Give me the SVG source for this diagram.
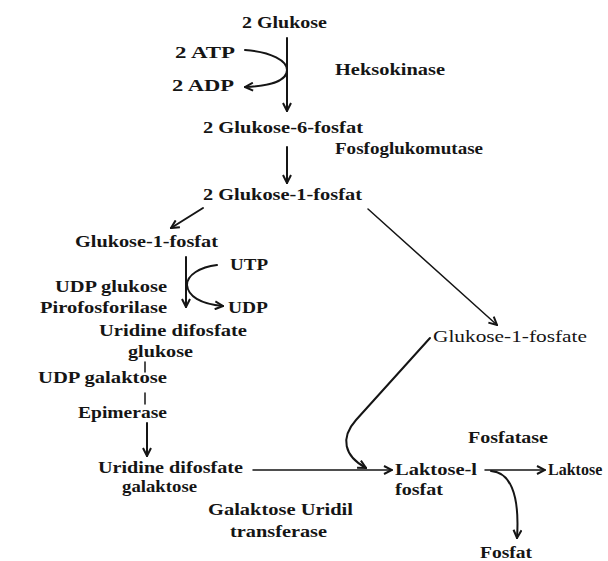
<svg xmlns="http://www.w3.org/2000/svg" width="608" height="561" viewBox="0 0 608 561">
<defs>
<style>
text{font-family:"Liberation Serif","Times New Roman",serif;font-size:17px;font-weight:bold;fill:#151515;}
text.r{font-weight:normal;}
.c{fill:none;stroke:#151515;stroke-width:2;stroke-linecap:round;}
.c1{fill:none;stroke:#151515;stroke-width:1.5;stroke-linecap:round;}
</style>
<marker id="ah" viewBox="0 0 10 10" refX="9" refY="5" markerWidth="10" markerHeight="10" markerUnits="userSpaceOnUse" orient="auto">
<path d="M1,1 L9,5 L1,9" fill="none" stroke="#151515" stroke-width="2" stroke-linejoin="miter"/>
</marker>
</defs>
<rect width="608" height="561" fill="#ffffff"/>

<g id="connectors">
<path class="c" d="M287,38 L287,111" marker-end="url(#ah)"/>
<path class="c" d="M245,50 C272,52 287,61 287,70 C287,80 272,86 245,87" marker-end="url(#ah)"/>
<path class="c" d="M287,147 L287,183" marker-end="url(#ah)"/>
<path class="c" d="M203,208 L171,228" marker-end="url(#ah)"/>
<path class="c1" d="M368,209 L497,325" marker-end="url(#ah)"/>
<path class="c" d="M186,257 L186,307" marker-end="url(#ah)"/>
<path class="c" d="M217,265 C200,267 187,275 187,285 C188,296 200,304 223,306" marker-end="url(#ah)"/>
<path class="c1" d="M145,362 L145,372"/>
<path class="c1" d="M145,393 L145,404"/>
<path class="c" d="M147,423 L147,456" marker-end="url(#ah)"/>
<path class="c1" d="M253,470 L392,470" marker-end="url(#ah)"/>
<path class="c" d="M430,338 L356,420 C340,438 344,456 366,468" marker-end="url(#ah)"/>
<path class="c1" d="M485,470 L545,470" marker-end="url(#ah)"/>
<path class="c" d="M491,471 C509,472 520,492 517,538" marker-end="url(#ah)"/>
</g>

<g id="glukose"><text x="242" y="28" textLength="85" lengthAdjust="spacingAndGlyphs">2 Glukose</text></g>
<g id="atp"><text x="175" y="58" textLength="60" lengthAdjust="spacingAndGlyphs">2 ATP</text></g>
<g id="adp"><text x="172" y="91" textLength="62" lengthAdjust="spacingAndGlyphs">2 ADP</text></g>
<g id="heksokinase"><text x="335" y="75" textLength="110" lengthAdjust="spacingAndGlyphs">Heksokinase</text></g>
<g id="g6p"><text x="203" y="133" textLength="160" lengthAdjust="spacingAndGlyphs">2 Glukose-6-fosfat</text></g>
<g id="fosfoglukomutase"><text x="335" y="154" textLength="148" lengthAdjust="spacingAndGlyphs">Fosfoglukomutase</text></g>
<g id="g1p2"><text x="203" y="200" textLength="159" lengthAdjust="spacingAndGlyphs">2 Glukose-1-fosfat</text></g>
<g id="g1p-left"><text x="75" y="247" textLength="143" lengthAdjust="spacingAndGlyphs">Glukose-1-fosfat</text></g>
<g id="utp"><text x="230" y="270" textLength="38" lengthAdjust="spacingAndGlyphs">UTP</text></g>
<g id="udp-pyro">
<text x="55" y="292" textLength="112" lengthAdjust="spacingAndGlyphs">UDP glukose</text>
<text x="40" y="313" textLength="127" lengthAdjust="spacingAndGlyphs">Pirofosforilase</text>
</g>
<g id="udp"><text x="228" y="313" textLength="40" lengthAdjust="spacingAndGlyphs">UDP</text></g>
<g id="udpglukose">
<text x="99" y="336" textLength="148" lengthAdjust="spacingAndGlyphs">Uridine difosfate</text>
<text x="128" y="357" textLength="65" lengthAdjust="spacingAndGlyphs">glukose</text>
</g>
<g id="epimerase">
<text x="38" y="383" textLength="129" lengthAdjust="spacingAndGlyphs">UDP galaktose</text>
<text x="78" y="418" textLength="89" lengthAdjust="spacingAndGlyphs">Epimerase</text>
</g>
<g id="udpgalaktose">
<text x="98" y="473" textLength="145" lengthAdjust="spacingAndGlyphs">Uridine difosfate</text>
<text x="122" y="492" textLength="75" lengthAdjust="spacingAndGlyphs">galaktose</text>
</g>
<g id="transferase">
<text x="208" y="515" textLength="145" lengthAdjust="spacingAndGlyphs">Galaktose Uridil</text>
<text x="230" y="537" textLength="97" lengthAdjust="spacingAndGlyphs">transferase</text>
</g>
<g id="g1p-right"><text class="r" x="433" y="342" textLength="154" lengthAdjust="spacingAndGlyphs">Glukose-1-fosfate</text></g>
<g id="laktose1p">
<text x="395" y="475" textLength="82" lengthAdjust="spacingAndGlyphs">Laktose-l</text>
<text x="395" y="495" textLength="48" lengthAdjust="spacingAndGlyphs">fosfat</text>
</g>
<g id="fosfatase"><text x="468" y="443" textLength="80" lengthAdjust="spacingAndGlyphs">Fosfatase</text></g>
<g id="laktose"><text x="548" y="475" style="font-size:16px">Laktose</text></g>
<g id="fosfat"><text x="480" y="558" textLength="52" lengthAdjust="spacingAndGlyphs">Fosfat</text></g>
</svg>
